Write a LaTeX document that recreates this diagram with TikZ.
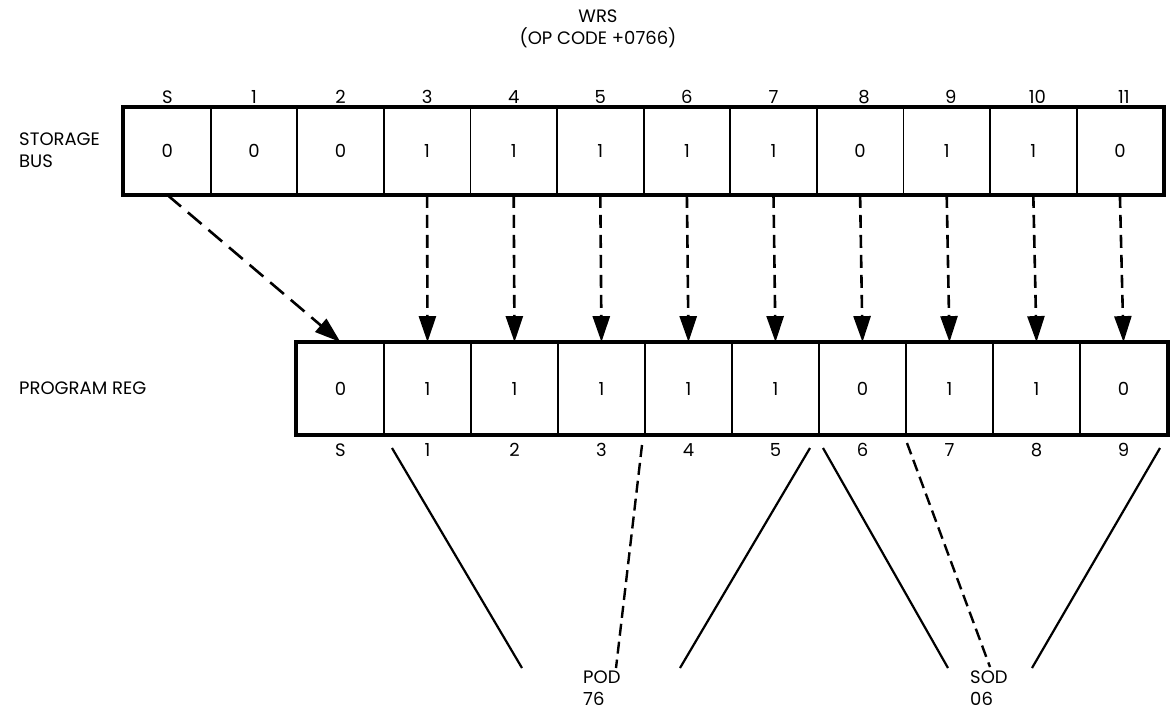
\documentclass[tikz,border=0pt]{standalone}
\usepackage{fontspec}
\setmainfont{Poppins}
\usetikzlibrary{arrows.meta}
\begin{document}
\begin{tikzpicture}[x=1pt,y=-1pt,
  txt/.style={font=\fontsize{18}{22}\selectfont,inner sep=0pt},
  sbcell/.style={draw,line width=1.8pt,minimum width=86.6pt,minimum height=86pt,inner sep=0pt,txt},
  prcell/.style={draw,line width=1.8pt,minimum width=87pt,minimum height=91pt,inner sep=0pt,txt},
  varrow/.style={line width=2.6pt,dash pattern=on 13pt off 7pt,-{Triangle[length=26pt,width=17pt]}},
  darrow/.style={line width=2.6pt,dash pattern=on 18pt off 9pt,-{Triangle[length=26pt,width=17pt]}},
  sline/.style={line width=2.2pt},
  dline/.style={line width=2.4pt,dash pattern=on 12pt off 6pt}]
\useasboundingbox (0,0) rectangle (1170,716);
\node[txt,align=center] (title) at (598,29) {WRS\\(OP CODE +0766)};
\node[txt,align=left,anchor=west] (sblabel) at (19,150) {STORAGE\\BUS};
\node[txt,anchor=west] (prlabel) at (19,388) {PROGRAM REG};
% storage bus
\foreach \v [count=\i from 0] in {0,0,0,1,1,1,1,1,0,1,1,0}{
  \node[sbcell] (sb\i) at ({124+86.6*(\i+0.5)},151) {\v};
}
\foreach \l [count=\i from 0] in {S,1,2,3,4,5,6,7,8,9,10,11}{
  \node[txt] (sbt\i) at ({124+86.6*(\i+0.5)+(\i>7?4:0)},97) {\l};
}
\draw[line width=3.4pt] (sb0.north west) rectangle (sb11.south east);
% program register
\foreach \v [count=\i from 0] in {0,1,1,1,1,1,0,1,1,0}{
  \node[prcell] (pr\i) at ({297+87*(\i+0.5)},388.5) {\v};
}
\foreach \l [count=\i from 0] in {S,1,2,3,4,5,6,7,8,9}{
  \node[txt] (prt\i) at ({297+87*(\i+0.5)},450) {\l};
}
\draw[line width=3.4pt] (pr0.north west) rectangle (pr9.south east);
% transfer arrows
\draw[darrow] (sb0.south) -- (pr0.north);
\foreach \i in {3,...,11}{
  \pgfmathtruncatemacro\j{\i-2}
  \draw[varrow] (sb\i.south) -- (pr\j.north);
}
% decoder lines
\coordinate (a1) at (392,448); \coordinate (a2) at (522,668);
\coordinate (b1) at (642,445); \coordinate (b2) at (616,668);
\coordinate (c1) at (680,668); \coordinate (c2) at (810,448);
\coordinate (d1) at (823,448); \coordinate (d2) at (948,668);
\coordinate (e1) at (907,443); \coordinate (e2) at (990,667);
\coordinate (f1) at (1032,668); \coordinate (f2) at (1160,448);
\draw[sline] (a1) -- (a2);
\draw[dline] (b1) -- (b2);
\draw[sline] (c1) -- (c2);
\draw[sline] (d1) -- (d2);
\draw[dline] (e1) -- (e2);
\draw[sline] (f1) -- (f2);
\node[txt,align=left,anchor=north west] (pod) at (583,671) {POD\\76};
\node[txt,align=left,anchor=north west] (sod) at (970,671) {SOD\\06};
\end{tikzpicture}
\end{document}
